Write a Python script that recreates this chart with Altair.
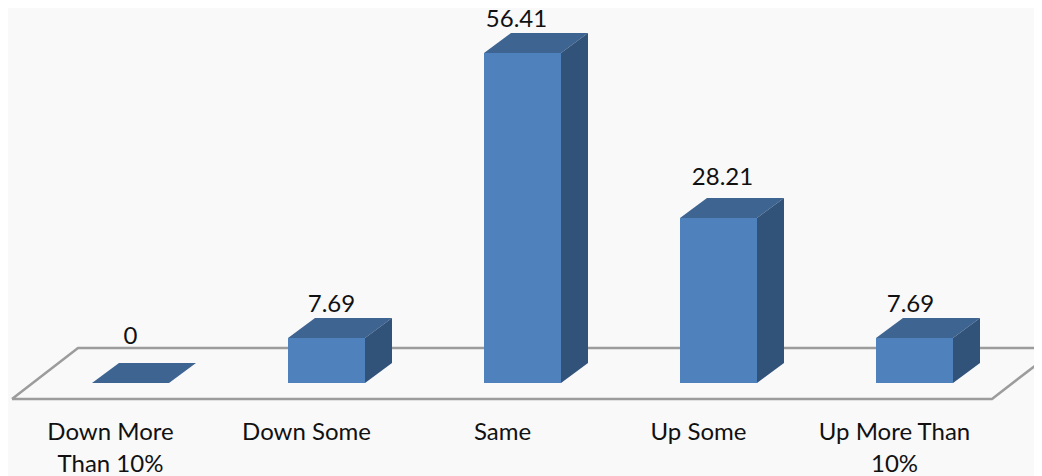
import json
import altair as alt
import pandas as pd

categories = ["Down More|Than 10%", "Down Some", "Same", "Up Some", "Up More Than|10%"]
values = [0, 7.69, 56.41, 28.21, 7.69]
value_labels = ["0", "7.69", "56.41", "28.21", "7.69"]
label_nudge_x = [0, 5, -6, 4, -4]      # px
label_lift = [19, 6, 6, 13, 6]         # px above the back edge

PX_X = 196.0      # px per category
PX_Y = 5.85       # px per value unit
HALF = 38.5 / PX_X
DX = 27 / PX_X
DY = 20 / PX_Y
W, H = 1026, 394
X0, Y0 = 122.5, 375.0   # pixel of index 0 / value 0 in the svg
x_scale = alt.Scale(domain=[-X0 / PX_X, (W - X0) / PX_X], nice=False, zero=False)
y_scale = alt.Scale(domain=[-(H - Y0) / PX_Y, Y0 / PX_Y], nice=False, zero=False)

fronts, tops, sides, labels = [], [], [], []
for i, v in enumerate(values):
    l, r = i - HALF, i + HALF
    fronts.append({"x": l, "r": r, "v": v, "b": 0})
    for x, y, y2 in [(l, v, v), (l + DX, v + DY, v), (r, v + DY, v), (r + DX, v + DY, v + DY)]:
        tops.append({"i": i, "x": x, "y": y, "y2": y2})
    for x, y, y2 in [(r, v, 0), (r + DX, v + DY, DY)]:
        sides.append({"i": i, "x": x, "y": y, "y2": y2})
    labels.append({"x": i + label_nudge_x[i] / PX_X, "y": v + DY + label_lift[i] / PX_Y, "t": value_labels[i]})

fl, fr = (12 - 8 - X0) / PX_X, (992 - 8 - X0) / PX_X
fb, ft = -16 / PX_Y, 35 / PX_Y
fdx = 66 / PX_X
floor = pd.DataFrame([
    {"o": 0, "x": fl, "y": fb}, {"o": 1, "x": fl + fdx, "y": ft},
    {"o": 2, "x": fr + fdx, "y": ft}, {"o": 3, "x": fr, "y": fb}, {"o": 4, "x": fl, "y": fb},
])

label_expr = "split(" + json.dumps(categories) + "[datum.value], '|')"
x_axis = alt.Axis(
    values=list(range(len(categories))), labelExpr=label_expr, title=None, grid=False,
    domain=False, ticks=False, labelOffset=-20.5, labelPadding=18, labelFontSize=24,
    labelFont="Lato", labelColor="#111111", labelOverlap=False, labelFlush=False,
    labelBound=False, labelLineHeight=32,
)
X = alt.X("x:Q", scale=x_scale, axis=x_axis)
Y = alt.Y("y:Q", scale=y_scale, axis=None, stack=None)

floor_layer = alt.Chart(floor).mark_line(color="#9C9C9C", strokeWidth=2.5, clip=True).encode(
    x=X, y=Y, order="o:Q")
front_layer = alt.Chart(pd.DataFrame(fronts)).mark_bar(color="#4F81BD").encode(
    x=X, x2="r:Q",
    y=alt.Y("v:Q", scale=y_scale, axis=None, stack=None), y2="b:Q")
top_layer = alt.Chart(pd.DataFrame(tops)).mark_area(color="#3E6491", opacity=1).encode(
    x=X, y=Y, y2="y2:Q", detail="i:N")
side_layer = alt.Chart(pd.DataFrame(sides)).mark_area(color="#325379", opacity=1).encode(
    x=X, y=Y, y2="y2:Q", detail="i:N")
text_layer = alt.Chart(pd.DataFrame(labels)).mark_text(
    font="Lato", fontSize=24, color="#111111", baseline="alphabetic", align="center").encode(
    x=X, y=Y, text="t:N")

chart = alt.layer(floor_layer, top_layer, side_layer, front_layer, text_layer).properties(
    width=W, height=H,
    padding={"left": 0, "top": 0, "right": 0, "bottom": 74},
    autosize=alt.AutoSizeParams(type="none"),
    background="#F9F9F9",
).configure_view(stroke=None)

chart.save("out.html", embed_options={"renderer": "svg", "actions": False})
